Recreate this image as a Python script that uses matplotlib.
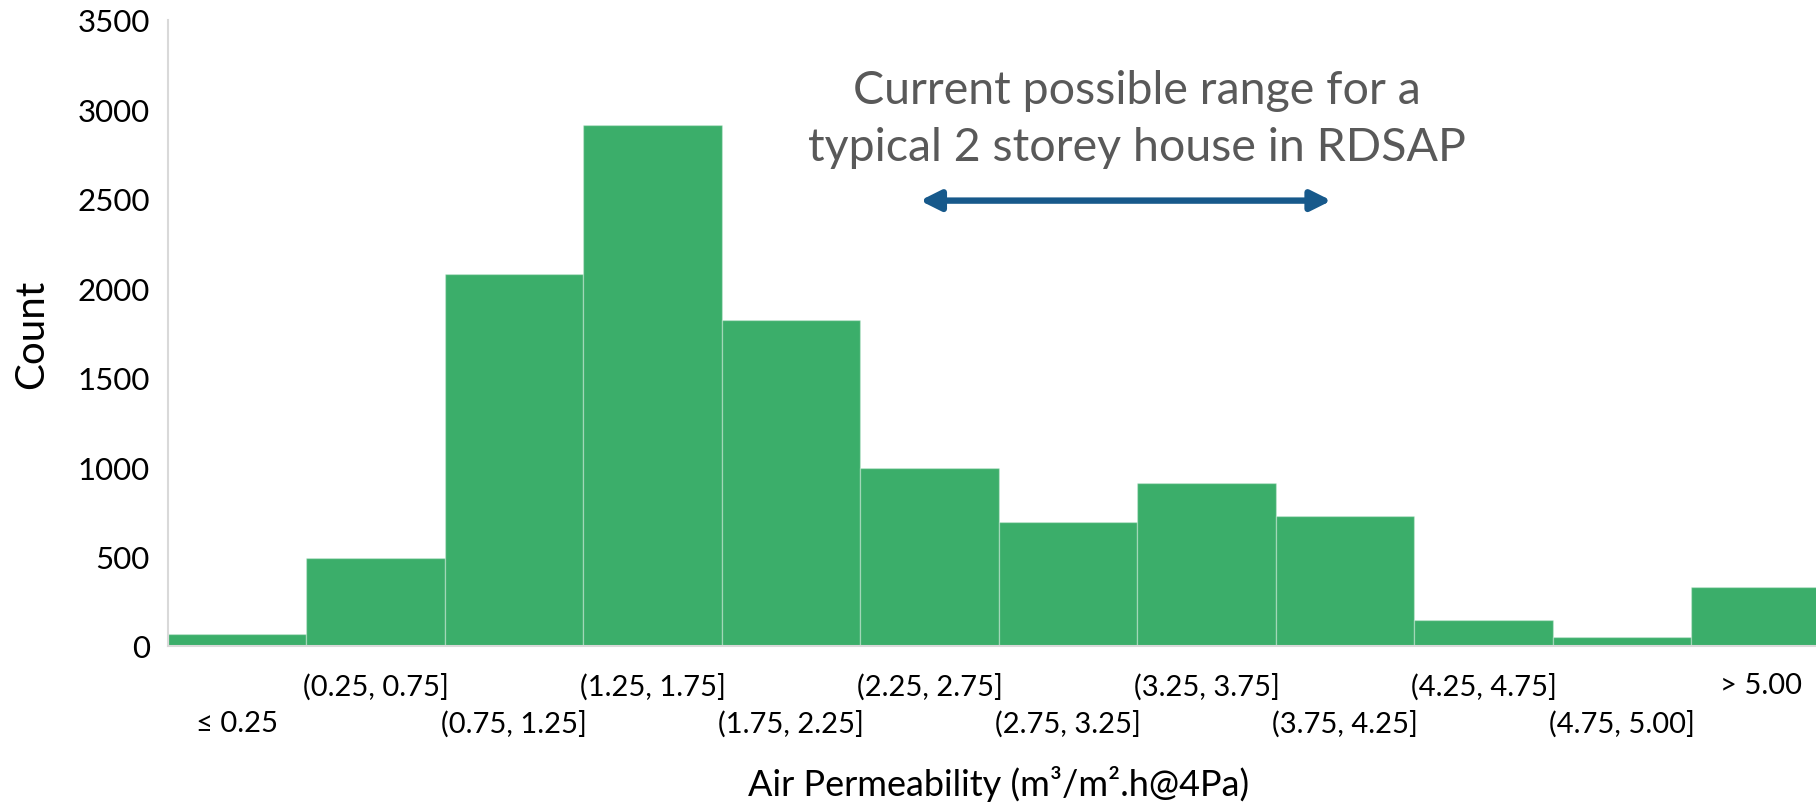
import matplotlib
matplotlib.use("Agg")
import matplotlib.pyplot as plt

# histogram of measured air permeability, binned counts
bins = ['≤ 0.25', '(0.25, 0.75]', '(0.75, 1.25]', '(1.25, 1.75]', '(1.75, 2.25]',
        '(2.25, 2.75]', '(2.75, 3.25]', '(3.25, 3.75]', '(3.75, 4.25]',
        '(4.25, 4.75]', '(4.75, 5.00]', '> 5.00']
counts = [65, 493, 2080, 2915, 1820, 993, 695, 913, 727, 148, 48, 330]
yticks = [0, 500, 1000, 1500, 2000, 2500, 3000, 3500]

# RDSAP range arrow (data units)
range_start = 4.93
range_end = 7.90
range_level = 2490
note = 'Current possible range for a\ntypical 2 storey house in RDSAP'

plt.rcParams['font.family'] = ['Lato', 'DejaVu Sans']

fig = plt.figure(figsize=(18.16, 8.03), dpi=100)
# axes runs a little past the right edge, so the last bar is cut off
ax = fig.add_axes([0.0925, 0.1943, 0.9152, 0.7796])

x = list(range(len(bins)))
ax.bar(x, counts, width=1.0, color='#3bae6a', edgecolor=(1, 1, 1, 0.3), linewidth=1.0)

ax.set_xlim(-0.5, 11.5)
ax.set_ylim(0, 3500)
ax.set_yticks(yticks)
ax.tick_params(axis='y', length=0, pad=13, labelsize=22.5, labelcolor='black')

# staggered category labels: odd bins on the top row, even bins below
ax.set_xticks(x[1::2])
ax.set_xticklabels(bins[1::2])
ax.set_xticks(x[0::2], minor=True)
ax.set_xticklabels(bins[0::2], minor=True)
ax.tick_params(axis='x', which='major', length=0, pad=19, labelsize=21)
ax.tick_params(axis='x', which='minor', length=0, pad=46, labelsize=21)

for side in ['top', 'right']:
    ax.spines[side].set_visible(False)
ax.spines['left'].set_color('#d9d9d9')
ax.spines['left'].set_linewidth(1.5)
ax.spines['bottom'].set_color('#d9d9d9')
ax.spines['bottom'].set_linewidth(1.5)

ax.set_ylabel('Count', fontsize=29)
ax.yaxis.set_label_coords(-0.082, 0.5)
ax.yaxis.label.set_va('center')

ax.set_xlabel('Air Permeability (m³/m².h@4Pa)', fontsize=26)
ax.xaxis.set_label_coords(0.5, -0.19)

ax.annotate('', xy=(range_start, range_level), xytext=(range_end, range_level),
            arrowprops=dict(arrowstyle='<|-|>,head_length=0.6,head_width=0.3',
                            mutation_scale=20, lw=4.6, color='#17598b',
                            shrinkA=0, shrinkB=0))
ax.text((range_start + range_end) / 2 + 0.08, 2950, note, ha='center', va='center',
        fontsize=33.5, color='#595959', linespacing=1.45)

fig.savefig('out.png', dpi=100)
